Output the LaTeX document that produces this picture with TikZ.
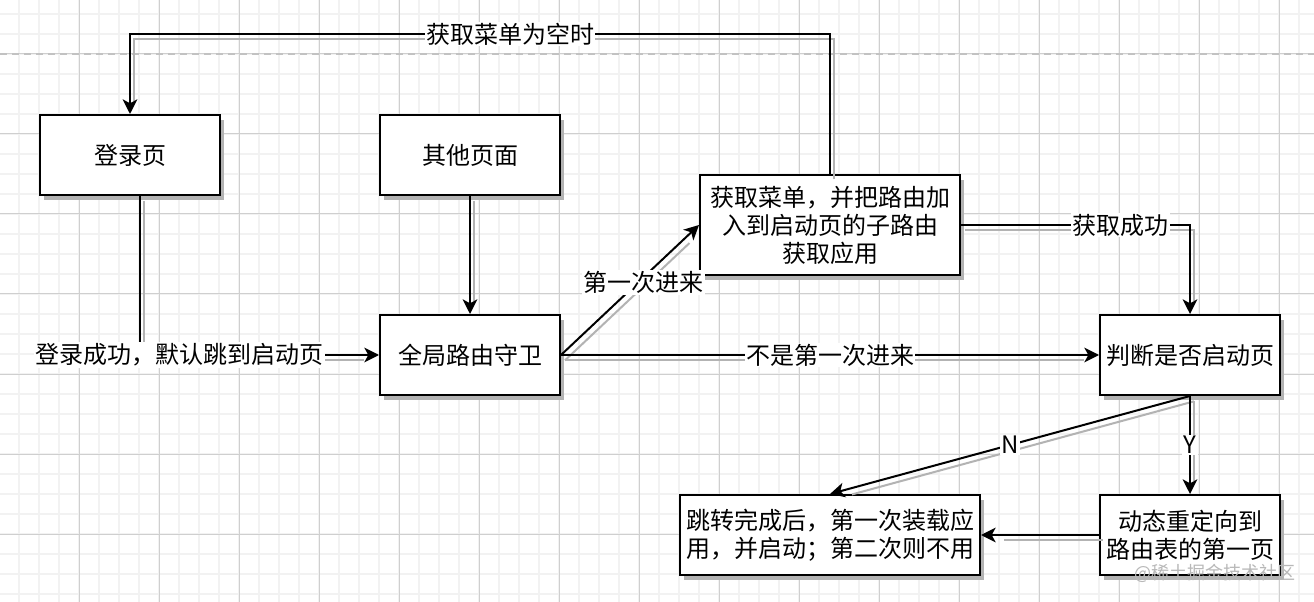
\documentclass[tikz,border=0pt]{standalone}
\usepackage{fontspec}
\setmainfont{Noto Sans CJK SC}
\usetikzlibrary{arrows.meta, calc, shadows}
\definecolor{gridminor}{HTML}{F2F2F2}
\definecolor{gridmajor}{HTML}{CFCFCF}
\definecolor{shadowgray}{HTML}{B3B3B3}

\begin{document}
\begin{tikzpicture}[
  x=0.75pt, y=-0.75pt,
  box/.style={draw, line width=1.5pt, fill=white, minimum width=135pt, minimum height=60pt,
              inner sep=2pt, align=center, font=\fontsize{18pt}{21pt}\selectfont,
              drop shadow={shadow xshift=3pt, shadow yshift=-3.5pt, opacity=1, fill=shadowgray}},
  lineshadow/.style={preaction={draw=shadowgray, line width=1.5pt, arrows=-, shorten >=14pt,
              transform canvas={shift={(3pt,-4pt)}}}},
  arrow/.style={-{Stealth[length=11pt, width=11pt, inset=3pt]}, line width=1.5pt, lineshadow},
  edgetext/.style={fill=white, inner sep=1pt, font=\fontsize{18pt}{21pt}\selectfont}
]
  \useasboundingbox (0,0) rectangle (1314,602);
  % background grid
  \fill[white] (0,0) rectangle (1314,602);
  \foreach \x in {19,39,...,1314} \draw[gridminor, line width=1.1pt] (\x,0) -- (\x,602);
  \foreach \y in {14,34,...,602} \draw[gridminor, line width=1.1pt] (0,\y) -- (1314,\y);
  \foreach \x in {79,159,...,1314} \draw[gridmajor, line width=0.75pt] (\x,0) -- (\x,602);
  \foreach \y in {54,134,...,602} \draw[gridmajor, line width=0.75pt] (0,\y) -- (1314,\y);
  \draw[shadowgray!80, line width=1.1pt, dash pattern=on 5pt off 4pt] (0,54) -- (1314,54);

  \node[box] (login)    at (130,155)  {登录页};
  \node[box] (other)    at (470,155)  {其他页面};
  \node[box, minimum width=195pt, minimum height=75pt] (menu) at (830,225)
        {获取菜单，并把路由加\\入到启动页的子路由\\获取应用};
  \node[box] (guard)    at (470,355)  {全局路由守卫};
  \node[box] (judge)    at (1190,355) {判断是否启动页};
  \node[box] (redirect) at (1190,535) {动态重定向到\\路由表的第一页};
  \node[box, minimum width=225pt] (done) at (830,535)
        {跳转完成后，第一次装载应\\用，并启动；第二次则不用};

  \coordinate (loginout) at ($(login.south)+(10,0)$);

  \draw[arrow] (menu.north) |- ++(-320,-140) node[edgetext] (emptytxt) {获取菜单为空时}
               -| (login.north);
  \draw[arrow] (loginout) |- node[edgetext, pos=0.583] (oktxt) {登录成功，默认跳到启动页} (guard.west);
  \draw[arrow] (other) -- (guard);
  \draw[arrow] (guard.east) -- node[edgetext, pos=0.56, xshift=4pt] (firsttxt) {第一次进来} (menu.west);
  \draw[arrow] (guard.east) -- node[edgetext] (notfirsttxt) {不是第一次进来} (judge.west);
  \draw[arrow] (menu.east) -| node[edgetext, pos=0.348] (gottxt) {获取成功} (judge.north);
  \draw[arrow] (judge.south) -- node[edgetext] (ntxt) {N} (done.north);
  \draw[arrow] (judge.south) -- node[edgetext] (ytxt) {Y} (redirect.north);
  \draw[arrow] (redirect.west) -- (done.east);

  \node[text=black!28, font=\fontsize{13.5pt}{16pt}\selectfont] (mark) at (1215,573) {@稀土掘金技术社区};
\end{tikzpicture}
\end{document}
